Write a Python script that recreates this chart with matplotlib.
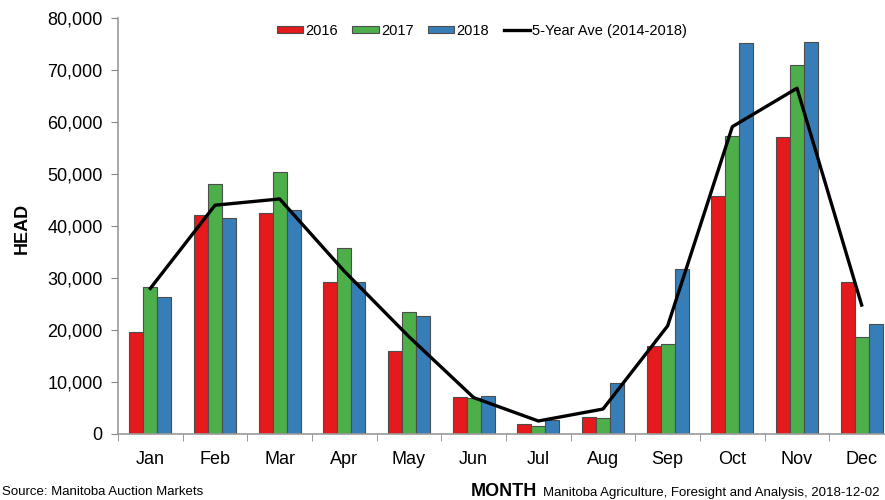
import numpy as np
import matplotlib
matplotlib.use("Agg")
import matplotlib.pyplot as plt
from matplotlib.ticker import FuncFormatter, FixedLocator

plt.rcParams['font.family'] = ['Liberation Sans', 'DejaVu Sans']

months = ['Jan', 'Feb', 'Mar', 'Apr', 'May', 'Jun', 'Jul', 'Aug', 'Sep', 'Oct', 'Nov', 'Dec']
head_2016 = [19700, 42100, 42500, 29300, 16000, 7200, 2000, 3200, 17000, 45800, 57200, 29300]
head_2017 = [28300, 48100, 50400, 35800, 23400, 6900, 1600, 3100, 17400, 57400, 71000, 18700]
head_2018 = [26400, 41500, 43100, 29300, 22700, 7300, 2600, 9900, 31700, 75100, 75400, 21100]
ave_5yr = [28000, 44000, 45200, 31300, 18700, 7000, 2500, 4800, 20800, 59100, 66500, 24800]

red, green, blue = '#E41A1C', '#4DAF4A', '#377EB8'

fig = plt.figure(figsize=(8.85, 5.0), dpi=100)
ax = fig.add_axes([118 / 885, 66 / 500, 776 / 885, 416 / 500])

x = np.arange(len(months))
w = 0.216
edge = '#4d4d4d'
b1 = ax.bar(x - w, head_2016, w, color=red, edgecolor=edge, linewidth=0.8, label='2016', zorder=2)
b2 = ax.bar(x, head_2017, w, color=green, edgecolor=edge, linewidth=0.8, label='2017', zorder=2)
b3 = ax.bar(x + w, head_2018, w, color=blue, edgecolor=edge, linewidth=0.8, label='2018', zorder=2)
ln, = ax.plot(x, ave_5yr, color='black', linewidth=2.4, label='5-Year Ave (2014-2018)', zorder=3)

ax.set_xlim(-0.5, 11.5)
ax.set_ylim(0, 80000)
ax.set_yticks(np.arange(0, 80001, 10000))
ax.yaxis.set_major_formatter(FuncFormatter(lambda v, p: f'{int(v):,}'))
ax.set_xticks(x)
ax.set_xticklabels(months)
ax.xaxis.set_minor_locator(FixedLocator(np.arange(-0.5, 12, 1)))
ax.tick_params(axis='x', which='major', length=0, pad=12, labelsize=13)
ax.tick_params(axis='x', which='minor', length=5, color='#888888', direction='out')
ax.tick_params(axis='y', length=5, color='#888888', pad=6, labelsize=13)

for s in ['top', 'right']:
    ax.spines[s].set_visible(False)
for s in ['left', 'bottom']:
    ax.spines[s].set_color('#999999')
    ax.spines[s].set_linewidth(1.2)

ax.legend([b1, b2, b3, ln], ['2016', '2017', '2018', '5-Year Ave (2014-2018)'],
          loc='upper center', bbox_to_anchor=(0.469, 1.018), ncol=4, frameon=False,
          fontsize=10.5, handlelength=1.8, handleheight=0.45, handletextpad=0.15,
          columnspacing=1.0)

fig.text(22 / 885, 1 - 228 / 500, 'HEAD', rotation=90, ha='center', va='center',
         fontsize=13, fontweight='bold')
fig.text(471 / 885, 1 - 492 / 500, 'MONTH', ha='left', va='center', fontsize=13, fontweight='bold')
fig.text(543 / 885, 1 - 493 / 500, 'Manitoba Agriculture, Foresight and Analysis, 2018-12-02',
         ha='left', va='center', fontsize=9.5)
fig.text(2 / 885, 1 - 492 / 500, 'Source: Manitoba Auction Markets', ha='left', va='center',
         fontsize=9.5)

fig.savefig('out.png', dpi=100)
